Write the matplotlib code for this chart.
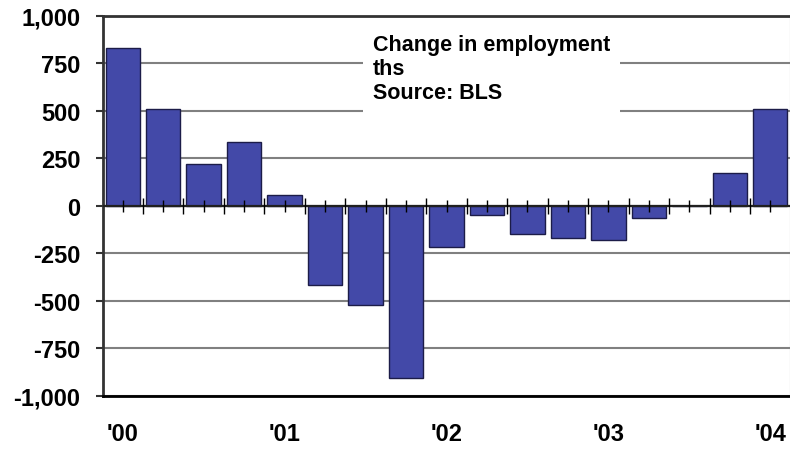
import numpy as np
import matplotlib
matplotlib.use("Agg")
import matplotlib.pyplot as plt
from matplotlib.patches import Rectangle
from matplotlib.ticker import FuncFormatter, NullFormatter

plt.rcParams['font.family'] = ['Liberation Sans', 'DejaVu Sans']
plt.rcParams['font.weight'] = 'bold'

# quarterly change in employment, thousands ('00 Q1 .. '04 Q1)
quarters = list(range(17))
change = [830, 507, 221, 337, 58, -418, -523, -904, -218, -46,
          -151, -170, -181, -67, 0, 174, 507]
year_pos = [0, 4, 8, 12, 16]
year_labels = ["'00", "'01", "'02", "'03", "'04"]
y_ticks = [-1000, -750, -500, -250, 0, 250, 500, 750, 1000]
note = "Change in employment\nths\nSource: BLS"

bar_color = '#4349A8'
edge_color = '#1C1C48'

fig = plt.figure(figsize=(7.9, 4.52), dpi=100)
ax = fig.add_axes([102.5 / 790, 55 / 452, 688 / 790, 380.5 / 452])

ax.bar(quarters, change, width=0.85, color=bar_color, edgecolor=edge_color,
       linewidth=1.0, zorder=2)

ax.set_xlim(-0.5, 16.5)
ax.set_ylim(-1000, 1000)

# gridlines
ax.set_yticks(y_ticks)
ax.yaxis.set_major_formatter(FuncFormatter(lambda v, p: f'{int(v):,}'))
ax.yaxis.grid(True, color='#808080', linewidth=1.5, zorder=0)
ax.set_axisbelow(True)
ax.axhline(0, color='#202020', linewidth=1.6, zorder=3)

# white box behind the note
ax.add_patch(Rectangle((0.379, 0.723), 0.373, 0.25, transform=ax.transAxes,
                       facecolor='white', edgecolor='none', zorder=1))
ax.text(0.393, 0.952, note, transform=ax.transAxes, fontsize=15.5,
        fontweight='bold', va='top', ha='left', linespacing=1.2, zorder=4)

# spines
for side in ['top', 'left']:
    ax.spines[side].set_color('#333333')
    ax.spines[side].set_linewidth(2)
ax.spines['bottom'].set_color('black')
ax.spines['bottom'].set_linewidth(2)
ax.spines['right'].set_color('#999999')
ax.spines['right'].set_linewidth(1.5)

ax.tick_params(axis='y', direction='out', length=5, width=1.5, color='#333333',
               labelsize=17, pad=11)
ax.set_xticks(year_pos)
ax.set_xticklabels(year_labels)
ax.tick_params(axis='x', length=0, labelsize=17, pad=19)

# tick marks crossing the zero line
sec = ax.secondary_xaxis(0.5)
sec.set_xticks(quarters)
sec.set_xticks(np.arange(0.5, 16, 1), minor=True)
sec.xaxis.set_major_formatter(NullFormatter())
sec.xaxis.set_minor_formatter(NullFormatter())
sec.tick_params(axis='x', which='major', direction='inout', length=8.6,
                width=1.0, color='black', labeltop=False, labelbottom=False)
sec.tick_params(axis='x', which='minor', direction='inout', length=12,
                width=1.0, color='black', labeltop=False, labelbottom=False)
for s in sec.spines.values():
    s.set_visible(False)
sec.set_zorder(5)

fig.savefig('out.png', dpi=100)
